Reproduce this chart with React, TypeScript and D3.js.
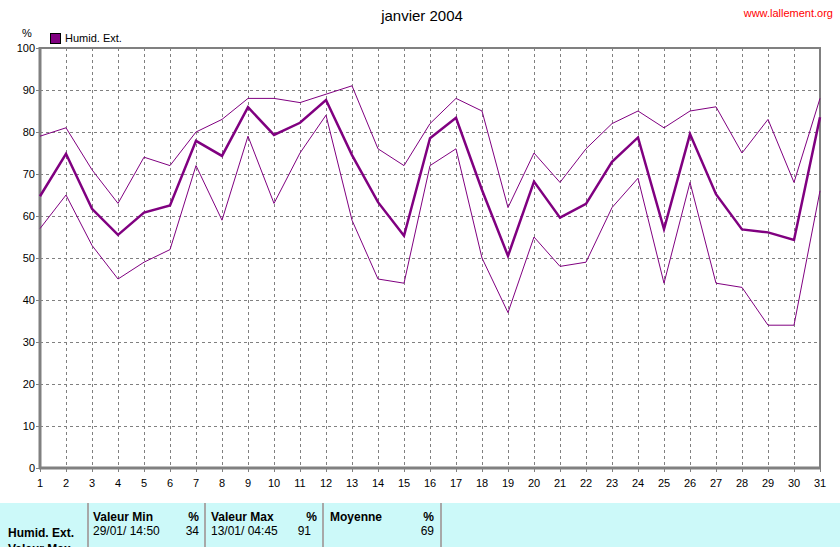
import React from "react";
import * as d3 from "d3";

const days = d3.range(1, 32);
const meanVals = [64.7, 74.8, 61.7, 55.5, 60.8, 62.5, 77.9, 74.3, 85.9, 79.3, 82.2, 87.6, 74.5, 63.3, 55.3, 78.5, 83.4, 66.2, 50.5, 68.2, 59.6, 62.9, 72.9, 78.7, 56.9, 79.5, 65.2, 56.8, 56.1, 54.3, 83.5];
const maxVals = [79, 81, 71, 63, 74, 72, 80, 83, 88, 88, 87, 89, 91, 76, 72, 82, 88, 85, 62, 75, 68, 76, 82, 85, 81, 85, 86, 75, 83, 68, 88];
const minVals = [57, 65, 53, 45, 49, 52, 72, 59, 79, 63, 75, 84, 59, 45, 44, 72, 76, 50, 37, 55, 48, 49, 62, 69, 44, 68, 44, 43, 34, 34, 66];
const yTicks = [0, 10, 20, 30, 40, 50, 60, 70, 80, 90, 100];

const W = 840, H = 547;
const L = 40, R = 820, T = 48, B = 468;
const FONT = "'Liberation Sans', Arial, sans-serif";
const PURPLE = "#800080";
const GRAY = "#808080";

export default function App() {
  const x = d3.scaleLinear().domain([1, 31]).range([L, R]);
  const y = d3.scaleLinear().domain([0, 100]).range([B, T]);
  const line = d3.line<number>().x((_, i) => x(days[i])).y((v) => y(v));

  return (
    <svg width={W} height={H} style={{ position: "fixed", left: 0, top: 0, background: "#fff" }} fontFamily={FONT}>
      <rect x={0} y={0} width={W} height={H} fill="#fff" />
      <text x={422} y={21} textAnchor="middle" fontSize={15} fill="#000">janvier 2004</text>
      <text x={833} y={17} textAnchor="end" fontSize={11} fill="#ff0000">www.lallement.org</text>
      <text x={22} y={37} fontSize={11} fill="#000">%</text>
      <rect x={50.5} y={33.5} width={10} height={10} fill={PURPLE} stroke="#000" />
      <text x={65} y={42} fontSize={11} fill="#000">Humid. Ext.</text>

      {/* grid */}
      {yTicks.filter((t) => t > 0 && t < 100).map((t) => (
        <line key={"gy" + t} x1={L} x2={R} y1={Math.round(y(t)) + 0.5} y2={Math.round(y(t)) + 0.5} stroke={GRAY} strokeDasharray="3,3" />
      ))}
      {days.filter((d) => d > 1 && d < 31).map((d) => (
        <line key={"gx" + d} x1={Math.round(x(d)) + 0.5} x2={Math.round(x(d)) + 0.5} y1={T} y2={B} stroke={GRAY} strokeDasharray="3,3" />
      ))}

      {/* borders */}
      <line x1={L} x2={R + 1} y1={T} y2={T} stroke={GRAY} strokeWidth={2} />
      <line x1={R} x2={R} y1={T} y2={B} stroke={GRAY} strokeWidth={2} />
      <line x1={L} x2={L} y1={T - 1} y2={B + 1} stroke={GRAY} strokeWidth={3} />
      <line x1={L - 1} x2={R + 1} y1={B} y2={B} stroke={GRAY} strokeWidth={3} />

      {/* ticks */}
      {yTicks.map((t) => (
        <g key={"ty" + t}>
          <line x1={L - 4} x2={L} y1={Math.round(y(t)) + 0.5} y2={Math.round(y(t)) + 0.5} stroke={GRAY} />
          <text x={L - 5} y={y(t) + 4} textAnchor="end" fontSize={11} fill="#000">{t}</text>
        </g>
      ))}
      {days.map((d) => (
        <g key={"tx" + d}>
          <line x1={Math.round(x(d)) + 0.5} x2={Math.round(x(d)) + 0.5} y1={B} y2={B + 4} stroke={GRAY} />
          <text x={x(d)} y={B + 19} textAnchor="middle" fontSize={11} fill="#000">{d}</text>
        </g>
      ))}

      {/* series */}
      <path d={line(maxVals) || ""} fill="none" stroke={PURPLE} strokeWidth={1} />
      <path d={line(minVals) || ""} fill="none" stroke={PURPLE} strokeWidth={1} />
      <path d={line(meanVals) || ""} fill="none" stroke={PURPLE} strokeWidth={2.5} />

      {/* table */}
      <rect x={0} y={503} width={W} height={H - 503} fill="#ccf9f9" />
      {[88, 205, 323, 441].map((sx) => (
        <line key={"s" + sx} x1={sx} x2={sx} y1={503} y2={H} stroke="#a8a8a8" strokeWidth={2} />
      ))}
      <g fontSize={12} fill="#000">
        <text x={93} y={521} fontWeight="bold">Valeur Min</text>
        <text x={199} y={521} textAnchor="end" fontWeight="bold">%</text>
        <text x={93} y={535}>29/01/  14:50</text>
        <text x={199} y={535} textAnchor="end">34</text>
        <text x={211} y={521} fontWeight="bold">Valeur Max</text>
        <text x={317} y={521} textAnchor="end" fontWeight="bold">%</text>
        <text x={211} y={535}>13/01/  04:45</text>
        <text x={311} y={535} textAnchor="end">91</text>
        <text x={330} y={521} fontWeight="bold">Moyenne</text>
        <text x={434} y={521} textAnchor="end" fontWeight="bold">%</text>
        <text x={434} y={535} textAnchor="end">69</text>
        <text x={8} y={537} fontWeight="bold">Humid. Ext.</text>
        <text x={8} y={553} fontWeight="bold">Valeur Max</text>
      </g>
    </svg>
  );
}
